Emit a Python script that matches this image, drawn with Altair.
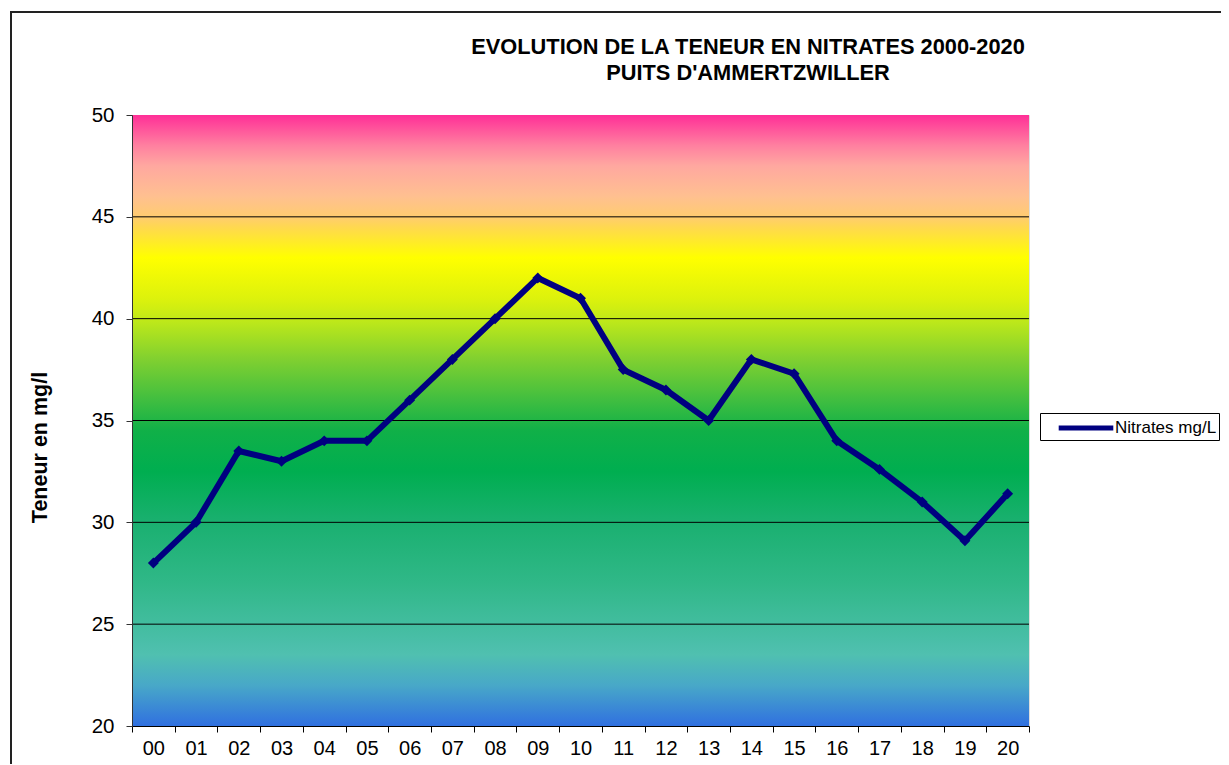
import altair as alt
import pandas as pd

years = ["00", "01", "02", "03", "04", "05", "06", "07", "08", "09", "10",
         "11", "12", "13", "14", "15", "16", "17", "18", "19", "20"]
nitrates = [28.0, 30.0, 33.5, 33.0, 34.0, 34.0, 36.0, 38.0, 40.0, 42.0, 41.0,
            37.5, 36.5, 35.0, 38.0, 37.3, 34.0, 32.6, 31.0, 29.1, 31.4]
series_name = "Nitrates mg/L"
title_lines = ["EVOLUTION DE LA TENEUR EN NITRATES 2000-2020", "PUITS D'AMMERTZWILLER"]
y_title = "Teneur en mg/l"
y_ticks = [20, 25, 30, 35, 40, 45, 50]
grid_values = [25, 30, 35, 40, 45]

# background gradient colour stops (value on y axis, colour)
grad_values = [50.0, 48.5, 47.5, 46.0, 45.0, 44.5, 43.0, 41.0, 40.0, 38.0, 36.0,
               34.5, 32.5, 30.0, 27.0, 23.5, 22.0, 20.0]
grad_colors = ["#FF2F97", "#FF80A0", "#FFA8A0", "#FFC090", "#FFCC70", "#FFD850",
               "#FFFF00", "#DDF20C", "#C2EA18", "#80D030", "#40BE40", "#10B048",
               "#00AE50", "#1AB070", "#30B888", "#50C0B0", "#48A8C8", "#3070E0"]

W, H = 897, 611
FONT = "Liberation Sans"

df = pd.DataFrame({"year": years, "value": nitrates, "series": series_name})
grid_df = pd.DataFrame({"g": grid_values})
one = pd.DataFrame({"a": [0]})

gradient = alt.Gradient(
    gradient="linear",
    stops=[alt.GradientStop(color=c, offset=(50 - v) / 30.0)
           for v, c in zip(grad_values, grad_colors)],
    x1=0, x2=0, y1=0, y2=1,
)

yscale = alt.Scale(domain=[20, 50], nice=False, zero=False)
xscale = alt.Scale(domain=years, paddingInner=0, paddingOuter=0)

frame = alt.Chart(one).mark_rect(
    fill="transparent", stroke="#222222", strokeWidth=2
).encode(
    x=alt.value(-121), x2=alt.value(W + 300),
    y=alt.value(-103), y2=alt.value(H + 300),
)

bg = alt.Chart(one).mark_rect(fill=gradient).encode(
    x=alt.value(0), x2=alt.value(W),
    y=alt.datum(50, scale=yscale), y2=alt.datum(20),
)

grid = alt.Chart(grid_df).mark_rule(color="black", strokeWidth=1).encode(
    y=alt.Y("g:Q", scale=yscale)
)

title1 = alt.Chart(one).mark_text(
    font=FONT, fontSize=21.8, fontWeight="bold", color="black",
    align="center", baseline="middle"
).encode(x=alt.value(616), y=alt.value(-68), text=alt.value(title_lines[0]))

title2 = alt.Chart(one).mark_text(
    font=FONT, fontSize=21.8, fontWeight="bold", color="black",
    align="center", baseline="middle"
).encode(x=alt.value(616), y=alt.value(-42), text=alt.value(title_lines[1]))

base = alt.Chart(df)

line = base.mark_line(strokeWidth=6, strokeJoin="miter").encode(
    x=alt.X("year:O", scale=xscale, sort=years,
            axis=alt.Axis(title=None, labelAngle=0, tickBand="extent",
                          labelFontSize=20, labelFont=FONT, labelColor="black",
                          domainColor="black", tickColor="black", tickSize=6,
                          labelPadding=6, grid=False, zindex=1)),
    y=alt.Y("value:Q", scale=yscale,
            axis=alt.Axis(values=y_ticks, title=y_title,
                          titleFontSize=21.5, titleFont=FONT, titleFontWeight="bold",
                          titleColor="black", titleAngle=-90, titleX=-92,
                          titleY=332, titleAlign="center", titleBaseline="middle",
                          labelFontSize=20.5, labelFont=FONT, labelColor="black",
                          domainColor="#333333", tickColor="#333333", tickSize=6,
                          labelPadding=12, grid=False, zindex=1)),
    color=alt.Color("series:N", scale=alt.Scale(domain=[series_name], range=["#000080"]),
                    legend=alt.Legend(title=None, orient="none", legendX=908, legendY=298,
                                      strokeColor="black", fillColor="white",
                                      padding=2,
                                      symbolType="M-2.6,0H2.6", symbolSize=441,
                                      symbolOffset=31,
                                      symbolStrokeWidth=5, labelFontSize=17,
                                      labelFont=FONT, labelColor="black",
                                      labelOffset=16)),
)

points = base.mark_point(shape="diamond", filled=True, size=120, opacity=1,
                         color="#000080").encode(
    x=alt.X("year:O", scale=xscale, sort=years),
    y=alt.Y("value:Q", scale=yscale),
)

chart = alt.layer(frame, bg, grid, line, points, title1, title2).properties(
    width=W, height=H,
    padding={"left": 124, "top": 107, "right": 192, "bottom": 38},
    autosize=alt.AutoSizeParams(type="none"),
).configure_view(stroke="#888888", strokeWidth=2).configure(background="white")

chart.save("out.html", embed_options={"renderer": "svg", "actions": False})
